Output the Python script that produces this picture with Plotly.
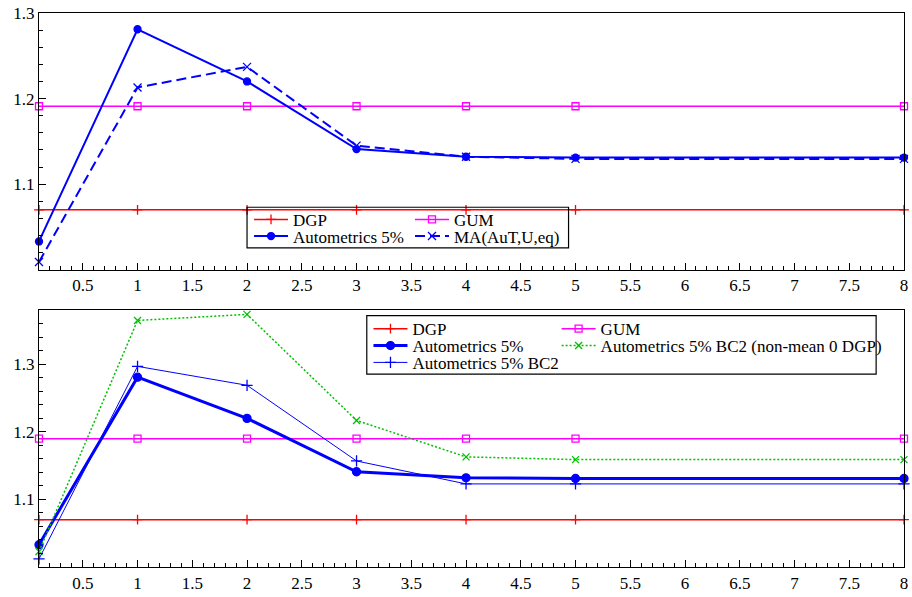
import plotly.graph_objects as go

# ---- data ----
x_vals = [0.1, 1, 2, 3, 4, 5, 8]
dgp = [1.07, 1.07, 1.07, 1.07, 1.07, 1.07, 1.07]
gum_top = [1.191, 1.191, 1.191, 1.191, 1.191, 1.191, 1.191]
gum_bot = [1.19, 1.19, 1.19, 1.19, 1.19, 1.19, 1.19]
auto5 = [1.033, 1.281, 1.220, 1.141, 1.132, 1.131, 1.131]
ma_aut = [1.009, 1.213, 1.237, 1.145, 1.132, 1.1295, 1.1295]
auto5_bc2 = [1.012, 1.297, 1.269, 1.157, 1.123, 1.123, 1.123]
auto5_bc2_nm = [1.023, 1.365, 1.374, 1.217, 1.163, 1.159, 1.159]

x_ticks = [0.5, 1, 1.5, 2, 2.5, 3, 3.5, 4, 4.5, 5, 5.5, 6, 6.5, 7, 7.5, 8]
x_ticklabels = ["0.5", "1", "1.5", "2", "2.5", "3", "3.5", "4", "4.5", "5", "5.5", "6", "6.5", "7", "7.5", "8"]
y_ticks = [1.1, 1.2, 1.3]
y_ticklabels = ["1.1", "1.2", "1.3"]

RED = "#ff0000"
MAG = "#ff00ff"
BLUE = "#0000ff"
GREEN = "#00c000"
FONT = dict(family="Liberation Serif", size=17, color="black")

W, H = 912, 597
ML, MR, MT, MB = 39, 4, 13, 25
PW = W - ML - MR
PH = H - MT - MB


def px_x(p):
    return (p - ML) / PW


def px_y(p):
    return (H - MB - p) / PH


fig = go.Figure()


def add(y, name, color, width, symbol, msize, dash, xa, ya, legend):
    fig.add_trace(go.Scatter(
        x=x_vals, y=y, name=name, mode="lines+markers",
        line=dict(color=color, width=width, dash=dash),
        marker=dict(symbol=symbol, size=msize, color=color,
                    line=dict(color=color, width=1.3)),
        xaxis=xa, yaxis=ya, legend=legend, cliponaxis=False, showlegend=True,
    ))


# top panel
add(dgp, "DGP", RED, 1.5, "cross-thin-open", 7, "solid", "x", "y", "legend")
add(gum_top, "GUM", MAG, 1.5, "square-open", 7, "solid", "x", "y", "legend2")
add(auto5, "Autometrics 5%", BLUE, 2, "circle", 7, "solid", "x", "y", "legend3")
add(ma_aut, "MA(AuT,U,eq)", BLUE, 2, "x-thin-open", 8, "10px,5px", "x", "y", "legend4")

# bottom panel
add(dgp, "DGP", RED, 1.5, "cross-thin-open", 7, "solid", "x2", "y2", "legend5")
add(gum_bot, "GUM", MAG, 1.5, "square-open", 7, "solid", "x2", "y2", "legend6")
add(auto5, "Autometrics 5%", BLUE, 3, "circle", 8, "solid", "x2", "y2", "legend7")
add(auto5_bc2_nm, "Autometrics 5% BC2 (non-mean 0 DGP)", GREEN, 1.5, "x-thin-open", 7, "2px,2px", "x2", "y2", "legend8")
add(auto5_bc2, "Autometrics 5% BC2", BLUE, 1, "cross-thin-open", 8, "solid", "x2", "y2", "legend9")

xaxis_common = dict(
    range=[0.1, 8], tickmode="array", tickvals=x_ticks, ticktext=x_ticklabels,
    ticks="inside", ticklen=7, tickwidth=1, tickcolor="black",
    minor=dict(tickmode="linear", tick0=0, dtick=0.1, ticks="inside", ticklen=4, tickcolor="black"),
    showline=True, linecolor="black", linewidth=1.2, mirror=True,
    showgrid=False, zeroline=False, tickfont=FONT,
)
yaxis_common = dict(
    tickmode="array", tickvals=y_ticks, ticktext=y_ticklabels,
    ticks="inside", ticklen=7, tickwidth=1, tickcolor="black",
    minor=dict(tickmode="linear", tick0=1.0, dtick=0.02, ticks="inside", ticklen=4, tickcolor="black"),
    showline=True, linecolor="black", linewidth=1.2, mirror=True,
    showgrid=False, zeroline=False, tickfont=FONT,
)

top_bottom_px = 272
bot_top_px = 313

layout = dict(
    width=W, height=H,
    margin=dict(l=ML, r=MR, t=MT, b=MB),
    paper_bgcolor="white", plot_bgcolor="white",
    font=FONT, showlegend=True,
    xaxis=dict(domain=[0, 1], anchor="y", **xaxis_common),
    yaxis=dict(domain=[px_y(top_bottom_px), 1], anchor="x", range=[1.0, 1.3], **yaxis_common),
    xaxis2=dict(domain=[0, 1], anchor="y2", **xaxis_common),
    yaxis2=dict(domain=[0, px_y(bot_top_px)], anchor="x2", range=[1.0, 1.38], **yaxis_common),
)

# legend item positions (pixel coordinates of symbol start and row centre)
legend_pos = {
    "legend": (255, 221.7),
    "legend2": (416.7, 221.7),
    "legend3": (255, 238.5),
    "legend4": (416.7, 238.5),
    "legend5": (375, 332),
    "legend6": (564, 332),
    "legend7": (375, 349),
    "legend8": (564, 349),
    "legend9": (375, 366),
}
for key, (sx, sy) in legend_pos.items():
    layout[key] = dict(
        x=px_x(sx - 5), y=px_y(sy), xanchor="left", yanchor="middle",
        bgcolor="rgba(0,0,0,0)", borderwidth=0, font=FONT, itemwidth=34,
    )

fig.update_layout(**layout)

# legend frames
fig.add_shape(type="rect", xref="paper", yref="paper",
              x0=px_x(248), x1=px_x(571), y0=px_y(250), y1=px_y(209),
              line=dict(color="black", width=1.2), fillcolor="rgba(0,0,0,0)")
fig.add_shape(type="rect", xref="paper", yref="paper",
              x0=px_x(368.3), x1=px_x(880), y0=px_y(377.3), y1=px_y(318.3),
              line=dict(color="black", width=1.2), fillcolor="rgba(0,0,0,0)")

fig.write_html("out.html")
